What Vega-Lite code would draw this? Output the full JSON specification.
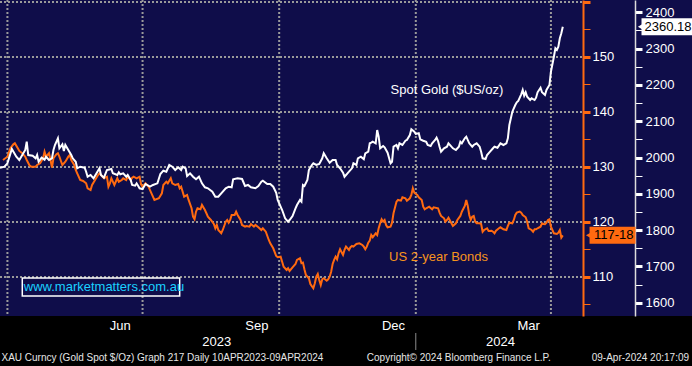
{
"$schema": "https://vega.github.io/schema/vega-lite/v6.json",
"width": 692, "height": 316,
"autosize": {"type": "none"},
"padding": {"left": 0, "top": 0, "right": 0, "bottom": 50},
"background": "#000000",
"config": {"view": {"fill": "#0f0d4a", "stroke": null}, "font": "Liberation Sans", "axis": {"labelFont": "Liberation Sans"}, "text": {"font": "Liberation Sans"}},
"datasets": {
"gold": [
{"date":"2023-03-27","gold":1971.9},{"date":"2023-03-30","gold":1974.7},{"date":"2023-04-01","gold":1984.0},{"date":"2023-04-04","gold":2023.4},{"date":"2023-04-07","gold":2002.2},{"date":"2023-04-09","gold":1993.1},{"date":"2023-04-13","gold":2020.7},{"date":"2023-04-14","gold":2043.5},{"date":"2023-04-15","gold":2006.9},{"date":"2023-04-18","gold":2005.0},{"date":"2023-04-20","gold":1997.8},{"date":"2023-04-21","gold":2006.9},{"date":"2023-04-22","gold":1988.4},{"date":"2023-04-24","gold":1999.5},{"date":"2023-04-26","gold":1994.0},{"date":"2023-04-27","gold":2002.2},{"date":"2023-04-29","gold":1993.1},
{"date":"2023-05-01","gold":1997.8},{"date":"2023-05-02","gold":2020.7},{"date":"2023-05-03","gold":2034.5},{"date":"2023-05-05","gold":2052.9},{"date":"2023-05-06","gold":2025.4},{"date":"2023-05-08","gold":2036.4},{"date":"2023-05-09","gold":2017.9},{"date":"2023-05-10","gold":2034.5},{"date":"2023-05-12","gold":2020.7},{"date":"2023-05-14","gold":2006.9},{"date":"2023-05-15","gold":1997.8},{"date":"2023-05-17","gold":1988.4},{"date":"2023-05-18","gold":1970.3},{"date":"2023-05-20","gold":1974.7},{"date":"2023-05-23","gold":1971.9},{"date":"2023-05-24","gold":1960.9},{"date":"2023-05-25","gold":1947.1},{"date":"2023-05-27","gold":1951.8},{"date":"2023-05-29","gold":1942.7},{"date":"2023-05-31","gold":1956.5},
{"date":"2023-06-02","gold":1970.3},{"date":"2023-06-03","gold":1951.8},{"date":"2023-06-05","gold":1944.4},{"date":"2023-06-07","gold":1965.6},{"date":"2023-06-10","gold":1968.3},{"date":"2023-06-11","gold":1956.5},{"date":"2023-06-14","gold":1951.8},{"date":"2023-06-15","gold":1959.3},{"date":"2023-06-16","gold":1953.7},{"date":"2023-06-18","gold":1956.5},{"date":"2023-06-20","gold":1947.1},{"date":"2023-06-21","gold":1951.8},{"date":"2023-06-23","gold":1938.0},{"date":"2023-06-24","gold":1924.3},{"date":"2023-06-26","gold":1922.3},{"date":"2023-06-27","gold":1928.9},{"date":"2023-06-29","gold":1915.2},
{"date":"2023-07-01","gold":1913.2},{"date":"2023-07-03","gold":1927.0},{"date":"2023-07-06","gold":1919.6},{"date":"2023-07-08","gold":1924.3},{"date":"2023-07-11","gold":1928.9},{"date":"2023-07-13","gold":1954.6},{"date":"2023-07-15","gold":1963.7},{"date":"2023-07-17","gold":1960.9},{"date":"2023-07-19","gold":1979.4},{"date":"2023-07-21","gold":1974.7},{"date":"2023-07-23","gold":1965.6},{"date":"2023-07-25","gold":1973.0},{"date":"2023-07-27","gold":1965.6},{"date":"2023-07-28","gold":1974.7},{"date":"2023-07-30","gold":1970.3},{"date":"2023-07-31","gold":1949.1},
{"date":"2023-08-02","gold":1956.5},{"date":"2023-08-04","gold":1947.1},{"date":"2023-08-06","gold":1940.0},{"date":"2023-08-08","gold":1947.1},{"date":"2023-08-10","gold":1928.9},{"date":"2023-08-12","gold":1917.9},{"date":"2023-08-14","gold":1915.2},{"date":"2023-08-17","gold":1905.8},{"date":"2023-08-19","gold":1892.0},{"date":"2023-08-21","gold":1892.0},{"date":"2023-08-23","gold":1901.4},{"date":"2023-08-26","gold":1915.2},{"date":"2023-08-28","gold":1919.6},{"date":"2023-08-30","gold":1917.9},{"date":"2023-08-31","gold":1940.0},
{"date":"2023-09-03","gold":1942.7},{"date":"2023-09-06","gold":1940.8},{"date":"2023-09-08","gold":1921.5},{"date":"2023-09-10","gold":1924.3},{"date":"2023-09-12","gold":1917.9},{"date":"2023-09-15","gold":1915.2},{"date":"2023-09-17","gold":1921.5},{"date":"2023-09-19","gold":1933.3},{"date":"2023-09-20","gold":1936.1},{"date":"2023-09-23","gold":1927.0},{"date":"2023-09-25","gold":1927.0},{"date":"2023-09-27","gold":1919.6},{"date":"2023-09-29","gold":1903.0},{"date":"2023-09-30","gold":1882.9},
{"date":"2023-10-03","gold":1855.4},{"date":"2023-10-05","gold":1832.5},{"date":"2023-10-07","gold":1823.2},{"date":"2023-10-08","gold":1827.8},{"date":"2023-10-10","gold":1838.9},{"date":"2023-10-12","gold":1860.1},{"date":"2023-10-13","gold":1869.2},{"date":"2023-10-15","gold":1882.9},{"date":"2023-10-16","gold":1878.3},{"date":"2023-10-17","gold":1924.3},{"date":"2023-10-18","gold":1921.5},{"date":"2023-10-20","gold":1938.0},{"date":"2023-10-21","gold":1965.6},{"date":"2023-10-23","gold":1979.4},{"date":"2023-10-24","gold":1984.0},{"date":"2023-10-26","gold":1979.4},{"date":"2023-10-28","gold":1982.1},{"date":"2023-10-30","gold":1997.8},{"date":"2023-10-31","gold":2011.6},
{"date":"2023-11-02","gold":1997.8},{"date":"2023-11-04","gold":1985.7},{"date":"2023-11-06","gold":1993.1},{"date":"2023-11-08","gold":1993.1},{"date":"2023-11-09","gold":1979.4},{"date":"2023-11-11","gold":1970.3},{"date":"2023-11-13","gold":1958.2},{"date":"2023-11-14","gold":1947.1},{"date":"2023-11-16","gold":1956.5},{"date":"2023-11-17","gold":1960.9},{"date":"2023-11-19","gold":1970.3},{"date":"2023-11-20","gold":1984.0},{"date":"2023-11-22","gold":1979.4},{"date":"2023-11-23","gold":1997.8},{"date":"2023-11-25","gold":2002.2},{"date":"2023-11-27","gold":1995.1},{"date":"2023-11-28","gold":2011.6},{"date":"2023-11-30","gold":2016.0},
{"date":"2023-12-01","gold":2039.1},{"date":"2023-12-02","gold":2040.8},{"date":"2023-12-03","gold":2043.5},{"date":"2023-12-05","gold":2039.1},{"date":"2023-12-06","gold":2075.8},{"date":"2023-12-07","gold":2057.3},{"date":"2023-12-08","gold":2025.4},{"date":"2023-12-10","gold":2031.7},{"date":"2023-12-11","gold":2028.1},{"date":"2023-12-13","gold":2013.2},{"date":"2023-12-15","gold":1984.0},{"date":"2023-12-16","gold":1988.4},{"date":"2023-12-17","gold":2029.8},{"date":"2023-12-19","gold":2034.5},{"date":"2023-12-20","gold":2025.4},{"date":"2023-12-21","gold":2039.1},{"date":"2023-12-23","gold":2034.5},{"date":"2023-12-25","gold":2046.3},{"date":"2023-12-26","gold":2048.2},{"date":"2023-12-28","gold":2062.0},{"date":"2023-12-29","gold":2077.7},{"date":"2023-12-31","gold":2071.1},
{"date":"2024-01-01","gold":2064.8},{"date":"2024-01-03","gold":2066.7},{"date":"2024-01-04","gold":2050.2},{"date":"2024-01-06","gold":2046.3},{"date":"2024-01-08","gold":2043.5},{"date":"2024-01-09","gold":2034.5},{"date":"2024-01-11","gold":2031.7},{"date":"2024-01-12","gold":2039.1},{"date":"2024-01-14","gold":2048.2},{"date":"2024-01-15","gold":2054.6},{"date":"2024-01-16","gold":2045.5},{"date":"2024-01-17","gold":2029.8},{"date":"2024-01-18","gold":2016.0},{"date":"2024-01-20","gold":2025.4},{"date":"2024-01-22","gold":2029.8},{"date":"2024-01-23","gold":2039.1},{"date":"2024-01-25","gold":2029.8},{"date":"2024-01-26","gold":2025.4},{"date":"2024-01-28","gold":2020.7},{"date":"2024-01-30","gold":2029.8},{"date":"2024-01-31","gold":2043.5},
{"date":"2024-02-01","gold":2039.1},{"date":"2024-02-03","gold":2052.9},{"date":"2024-02-04","gold":2057.3},{"date":"2024-02-06","gold":2039.1},{"date":"2024-02-08","gold":2029.8},{"date":"2024-02-09","gold":2034.5},{"date":"2024-02-11","gold":2039.1},{"date":"2024-02-13","gold":2029.8},{"date":"2024-02-14","gold":2016.0},{"date":"2024-02-15","gold":1997.8},{"date":"2024-02-17","gold":1995.9},{"date":"2024-02-18","gold":2006.9},{"date":"2024-02-20","gold":2016.0},{"date":"2024-02-22","gold":2025.4},{"date":"2024-02-23","gold":2029.8},{"date":"2024-02-25","gold":2027.0},{"date":"2024-02-27","gold":2039.1},{"date":"2024-02-29","gold":2034.5},
{"date":"2024-03-02","gold":2039.1},{"date":"2024-03-03","gold":2052.9},{"date":"2024-03-04","gold":2089.5},{"date":"2024-03-06","gold":2126.2},{"date":"2024-03-08","gold":2144.6},{"date":"2024-03-09","gold":2152.1},{"date":"2024-03-10","gold":2155.7},{"date":"2024-03-12","gold":2174.1},{"date":"2024-03-13","gold":2186.0},{"date":"2024-03-14","gold":2170.3},{"date":"2024-03-15","gold":2179.6},{"date":"2024-03-16","gold":2167.5},{"date":"2024-03-18","gold":2158.4},{"date":"2024-03-19","gold":2163.1},{"date":"2024-03-21","gold":2158.4},{"date":"2024-03-22","gold":2164.8},{"date":"2024-03-23","gold":2179.6},{"date":"2024-03-25","gold":2192.3},{"date":"2024-03-26","gold":2179.6},{"date":"2024-03-28","gold":2172.2},{"date":"2024-03-29","gold":2186.0},{"date":"2024-03-31","gold":2199.7},
{"date":"2024-04-01","gold":2236.4},{"date":"2024-04-03","gold":2277.7},{"date":"2024-04-04","gold":2300.8},{"date":"2024-04-05","gold":2296.2},{"date":"2024-04-06","gold":2305.3},{"date":"2024-04-07","gold":2328.4},{"date":"2024-04-08","gold":2342.2},{"date":"2024-04-09","gold":2360.18}
],
"bond": [
{"date":"2023-03-29","bond":131.27},{"date":"2023-04-01","bond":131.87},{"date":"2023-04-03","bond":133.40},{"date":"2023-04-05","bond":134.12},{"date":"2023-04-06","bond":134.31},{"date":"2023-04-08","bond":133.40},{"date":"2023-04-09","bond":132.91},{"date":"2023-04-11","bond":132.49},{"date":"2023-04-13","bond":131.87},{"date":"2023-04-14","bond":131.27},{"date":"2023-04-16","bond":130.23},{"date":"2023-04-17","bond":130.05},{"date":"2023-04-20","bond":130.05},{"date":"2023-04-21","bond":130.36},{"date":"2023-04-23","bond":130.67},{"date":"2023-04-25","bond":131.58},{"date":"2023-04-26","bond":132.78},{"date":"2023-04-27","bond":131.87},{"date":"2023-04-29","bond":132.49},{"date":"2023-04-30","bond":131.27},
{"date":"2023-05-01","bond":129.87},{"date":"2023-05-02","bond":131.58},{"date":"2023-05-04","bond":132.31},{"date":"2023-05-05","bond":132.49},{"date":"2023-05-06","bond":131.87},{"date":"2023-05-08","bond":130.36},{"date":"2023-05-10","bond":130.96},{"date":"2023-05-12","bond":131.87},{"date":"2023-05-13","bond":132.18},{"date":"2023-05-14","bond":131.27},{"date":"2023-05-16","bond":130.36},{"date":"2023-05-17","bond":129.45},{"date":"2023-05-18","bond":128.85},{"date":"2023-05-20","bond":127.63},{"date":"2023-05-22","bond":127.45},{"date":"2023-05-24","bond":127.03},{"date":"2023-05-25","bond":126.12},{"date":"2023-05-27","bond":125.81},{"date":"2023-05-28","bond":126.72},{"date":"2023-05-30","bond":127.63},
{"date":"2023-06-01","bond":128.54},{"date":"2023-06-02","bond":128.85},{"date":"2023-06-03","bond":128.54},{"date":"2023-06-05","bond":127.94},{"date":"2023-06-07","bond":128.23},{"date":"2023-06-08","bond":126.41},{"date":"2023-06-09","bond":127.03},{"date":"2023-06-10","bond":127.94},{"date":"2023-06-11","bond":127.32},{"date":"2023-06-12","bond":126.72},{"date":"2023-06-14","bond":127.94},{"date":"2023-06-15","bond":127.32},{"date":"2023-06-17","bond":127.63},{"date":"2023-06-18","bond":127.94},{"date":"2023-06-20","bond":127.63},{"date":"2023-06-21","bond":128.23},{"date":"2023-06-23","bond":127.63},{"date":"2023-06-24","bond":128.05},{"date":"2023-06-25","bond":128.23},{"date":"2023-06-27","bond":127.94},{"date":"2023-06-29","bond":128.23},{"date":"2023-06-30","bond":126.85},
{"date":"2023-07-01","bond":126.41},{"date":"2023-07-03","bond":127.03},{"date":"2023-07-05","bond":126.41},{"date":"2023-07-07","bond":125.21},{"date":"2023-07-09","bond":124.00},{"date":"2023-07-12","bond":124.31},{"date":"2023-07-14","bond":125.21},{"date":"2023-07-15","bond":126.72},{"date":"2023-07-17","bond":127.32},{"date":"2023-07-18","bond":127.03},{"date":"2023-07-20","bond":127.94},{"date":"2023-07-21","bond":127.03},{"date":"2023-07-23","bond":126.72},{"date":"2023-07-25","bond":126.91},{"date":"2023-07-26","bond":126.12},{"date":"2023-07-27","bond":126.41},{"date":"2023-07-29","bond":124.60},{"date":"2023-07-31","bond":124.91},
{"date":"2023-08-01","bond":124.00},{"date":"2023-08-03","bond":122.49},{"date":"2023-08-04","bond":120.96},{"date":"2023-08-05","bond":120.49},{"date":"2023-08-06","bond":121.87},{"date":"2023-08-07","bond":122.49},{"date":"2023-08-09","bond":122.31},{"date":"2023-08-10","bond":123.09},{"date":"2023-08-12","bond":122.18},{"date":"2023-08-13","bond":121.58},{"date":"2023-08-14","bond":120.96},{"date":"2023-08-16","bond":120.36},{"date":"2023-08-18","bond":119.63},{"date":"2023-08-19","bond":118.85},{"date":"2023-08-20","bond":119.45},{"date":"2023-08-21","bond":118.54},{"date":"2023-08-23","bond":117.94},{"date":"2023-08-24","bond":118.54},{"date":"2023-08-26","bond":120.05},{"date":"2023-08-27","bond":120.36},{"date":"2023-08-28","bond":119.87},{"date":"2023-08-29","bond":120.36},{"date":"2023-08-30","bond":121.27},
{"date":"2023-09-01","bond":121.27},{"date":"2023-09-02","bond":121.87},{"date":"2023-09-03","bond":121.27},{"date":"2023-09-05","bond":120.36},{"date":"2023-09-06","bond":119.45},{"date":"2023-09-08","bond":119.14},{"date":"2023-09-09","bond":119.27},{"date":"2023-09-11","bond":119.14},{"date":"2023-09-12","bond":119.63},{"date":"2023-09-14","bond":119.14},{"date":"2023-09-15","bond":119.45},{"date":"2023-09-17","bond":119.03},{"date":"2023-09-19","bond":118.54},{"date":"2023-09-20","bond":118.85},{"date":"2023-09-22","bond":118.23},{"date":"2023-09-24","bond":116.72},{"date":"2023-09-25","bond":116.12},{"date":"2023-09-27","bond":115.21},{"date":"2023-09-29","bond":113.81},{"date":"2023-09-30","bond":113.58},
{"date":"2023-10-02","bond":113.69},{"date":"2023-10-03","bond":112.78},{"date":"2023-10-04","bond":111.87},{"date":"2023-10-06","bond":111.27},{"date":"2023-10-07","bond":111.58},{"date":"2023-10-08","bond":111.09},{"date":"2023-10-10","bond":111.76},{"date":"2023-10-12","bond":112.36},{"date":"2023-10-13","bond":113.09},{"date":"2023-10-15","bond":113.40},{"date":"2023-10-16","bond":112.49},{"date":"2023-10-17","bond":112.60},{"date":"2023-10-18","bond":111.40},{"date":"2023-10-19","bond":110.36},{"date":"2023-10-21","bond":109.76},{"date":"2023-10-22","bond":108.72},{"date":"2023-10-24","bond":107.94},{"date":"2023-10-25","bond":108.85},{"date":"2023-10-26","bond":110.05},{"date":"2023-10-27","bond":110.54},{"date":"2023-10-28","bond":109.45},{"date":"2023-10-29","bond":108.54},{"date":"2023-10-30","bond":109.58},{"date":"2023-10-31","bond":109.76},
{"date":"2023-11-02","bond":109.32},{"date":"2023-11-03","bond":109.58},{"date":"2023-11-04","bond":110.05},{"date":"2023-11-05","bond":110.96},{"date":"2023-11-06","bond":112.36},{"date":"2023-11-07","bond":113.09},{"date":"2023-11-08","bond":113.69},{"date":"2023-11-09","bond":113.21},{"date":"2023-11-10","bond":114.31},{"date":"2023-11-11","bond":115.03},{"date":"2023-11-13","bond":114.00},{"date":"2023-11-14","bond":114.91},{"date":"2023-11-15","bond":115.51},{"date":"2023-11-17","bond":114.91},{"date":"2023-11-18","bond":115.40},{"date":"2023-11-19","bond":115.63},{"date":"2023-11-20","bond":115.51},{"date":"2023-11-22","bond":116.00},{"date":"2023-11-24","bond":116.12},{"date":"2023-11-26","bond":115.81},{"date":"2023-11-27","bond":115.51},{"date":"2023-11-28","bond":115.03},{"date":"2023-11-29","bond":115.51},{"date":"2023-11-30","bond":116.23},
{"date":"2023-12-01","bond":116.60},{"date":"2023-12-02","bond":117.63},{"date":"2023-12-03","bond":117.21},{"date":"2023-12-05","bond":117.94},{"date":"2023-12-06","bond":117.63},{"date":"2023-12-07","bond":118.85},{"date":"2023-12-08","bond":119.76},{"date":"2023-12-09","bond":120.49},{"date":"2023-12-10","bond":120.05},{"date":"2023-12-11","bond":120.36},{"date":"2023-12-12","bond":119.45},{"date":"2023-12-13","bond":119.03},{"date":"2023-12-15","bond":119.14},{"date":"2023-12-16","bond":119.87},{"date":"2023-12-17","bond":121.58},{"date":"2023-12-19","bond":123.69},{"date":"2023-12-20","bond":124.00},{"date":"2023-12-22","bond":123.87},{"date":"2023-12-23","bond":124.49},{"date":"2023-12-25","bond":124.31},{"date":"2023-12-26","bond":123.87},{"date":"2023-12-28","bond":124.31},{"date":"2023-12-29","bond":124.91},{"date":"2023-12-30","bond":126.12},{"date":"2023-12-31","bond":125.32},
{"date":"2024-01-02","bond":124.91},{"date":"2024-01-03","bond":124.49},{"date":"2024-01-05","bond":124.00},{"date":"2024-01-06","bond":122.78},{"date":"2024-01-07","bond":122.31},{"date":"2024-01-08","bond":122.49},{"date":"2024-01-10","bond":122.78},{"date":"2024-01-12","bond":122.31},{"date":"2024-01-13","bond":122.67},{"date":"2024-01-16","bond":122.49},{"date":"2024-01-17","bond":121.69},{"date":"2024-01-18","bond":121.09},{"date":"2024-01-20","bond":120.67},{"date":"2024-01-21","bond":120.05},{"date":"2024-01-22","bond":120.36},{"date":"2024-01-23","bond":120.78},{"date":"2024-01-25","bond":119.76},{"date":"2024-01-26","bond":119.27},{"date":"2024-01-28","bond":119.76},{"date":"2024-01-29","bond":120.36},{"date":"2024-01-31","bond":121.09},
{"date":"2024-02-01","bond":121.87},{"date":"2024-02-03","bond":122.91},{"date":"2024-02-04","bond":124.00},{"date":"2024-02-05","bond":122.91},{"date":"2024-02-06","bond":121.27},{"date":"2024-02-07","bond":120.36},{"date":"2024-02-08","bond":120.96},{"date":"2024-02-09","bond":121.09},{"date":"2024-02-10","bond":120.05},{"date":"2024-02-11","bond":119.76},{"date":"2024-02-13","bond":119.76},{"date":"2024-02-14","bond":119.63},{"date":"2024-02-15","bond":118.23},{"date":"2024-02-16","bond":118.54},{"date":"2024-02-18","bond":118.85},{"date":"2024-02-19","bond":118.36},{"date":"2024-02-21","bond":118.41},{"date":"2024-02-22","bond":118.23},{"date":"2024-02-23","bond":117.94},{"date":"2024-02-24","bond":118.41},{"date":"2024-02-26","bond":118.85},{"date":"2024-02-27","bond":119.03},{"date":"2024-02-29","bond":118.67},
{"date":"2024-03-02","bond":118.54},{"date":"2024-03-03","bond":119.27},{"date":"2024-03-04","bond":119.87},{"date":"2024-03-06","bond":119.76},{"date":"2024-03-07","bond":120.36},{"date":"2024-03-08","bond":121.27},{"date":"2024-03-09","bond":121.69},{"date":"2024-03-11","bond":121.87},{"date":"2024-03-12","bond":121.69},{"date":"2024-03-13","bond":121.27},{"date":"2024-03-15","bond":120.85},{"date":"2024-03-16","bond":120.05},{"date":"2024-03-17","bond":118.85},{"date":"2024-03-19","bond":118.54},{"date":"2024-03-20","bond":118.23},{"date":"2024-03-21","bond":118.67},{"date":"2024-03-22","bond":118.67},{"date":"2024-03-23","bond":118.85},{"date":"2024-03-25","bond":119.14},{"date":"2024-03-26","bond":119.76},{"date":"2024-03-27","bond":119.63},{"date":"2024-03-28","bond":119.58},{"date":"2024-03-29","bond":119.87},{"date":"2024-03-30","bond":120.36},{"date":"2024-03-31","bond":120.49},
{"date":"2024-04-01","bond":119.14},{"date":"2024-04-02","bond":118.54},{"date":"2024-04-03","bond":117.94},{"date":"2024-04-05","bond":117.81},{"date":"2024-04-06","bond":118.05},{"date":"2024-04-07","bond":118.54},{"date":"2024-04-08","bond":117.14},{"date":"2024-04-09","bond":117.5625}
],
"hgrid": [{"v":110},{"v":120},{"v":130},{"v":140},{"v":150},{"v":160}],
"vgrid": [{"d":"2023-04-01"},{"d":"2023-07-01"},{"d":"2023-10-01"},{"d":"2024-01-01"},{"d":"2024-04-01"}],
"months": [{"d":"2023-06-16","label":"Jun"},{"d":"2023-09-16","label":"Sep"},{"d":"2023-12-17","label":"Dec"},{"d":"2024-03-17","label":"Mar"}],
"years": [{"d":"2023-08-20","label":"2023"},{"d":"2024-02-27","label":"2024"}]
},
"layer": [
{"data": {"name": "hgrid"}, "mark": {"type": "rule", "color": "#9a9a9a", "strokeWidth": 2, "strokeDash": [2, 2]},
 "encoding": {
  "x": {"datum": {"year":2023,"month":3,"date":27}, "type": "temporal", "scale": {"domain": [{"year":2023,"month":3,"date":27},{"year":2024,"month":7,"date":5}], "nice": false}, "axis": null},
  "x2": {"datum": {"year":2024,"month":4,"date":23}},
  "y": {"field": "v", "type": "quantitative", "scale": {"domain": [102.9, 160.36], "nice": false, "zero": false}, "axis": null}}},
{"data": {"name": "vgrid"}, "mark": {"type": "rule", "color": "#9a9a9a", "strokeWidth": 2, "strokeDash": [2, 2]},
 "encoding": {
  "x": {"field": "d", "type": "temporal", "scale": {"domain": [{"year":2023,"month":3,"date":27},{"year":2024,"month":7,"date":5}], "nice": false}, "axis": null}}},
{"data": {"name": "bond"}, "mark": {"type": "line", "color": "#ff6a10", "strokeWidth": 2},
 "encoding": {
  "x": {"field": "date", "type": "temporal", "scale": {"domain": [{"year":2023,"month":3,"date":27},{"year":2024,"month":7,"date":5}], "nice": false},
   "axis": {"orient": "bottom", "title": null, "domain": false, "grid": false, "labels": false,
    "values": [{"year":2023,"month":4,"date":1},{"year":2023,"month":5,"date":1},{"year":2023,"month":6,"date":1},{"year":2023,"month":7,"date":1},{"year":2023,"month":8,"date":1},{"year":2023,"month":9,"date":1},{"year":2023,"month":10,"date":1},{"year":2023,"month":11,"date":1},{"year":2023,"month":12,"date":1},{"year":2024,"month":1,"date":1},{"year":2024,"month":2,"date":1},{"year":2024,"month":3,"date":1},{"year":2024,"month":4,"date":1}],
    "tickColor": "#ffffff", "tickWidth": 1, "tickSize": 4}},
  "y": {"field": "bond", "type": "quantitative", "scale": {"domain": [102.9, 160.36], "nice": false, "zero": false},
   "axis": {"orient": "right", "offset": -109, "title": null, "grid": false,
    "values": [105,110,115,120,125,130,135,140,145,150,155,160],
    "format": "d",
    "labelExpr": "datum.value % 10 == 0 && datum.value <= 150 ? datum.label : ''",
    "domainColor": "#ff6a10", "domainWidth": 2,
    "tickColor": "#ff6a10", "tickSize": 7,
    "tickWidth": {"condition": {"test": "datum.value % 10 == 0", "value": 3}, "value": 1},
    "labelColor": "#ffffff", "labelFontSize": 13, "labelPadding": 2}}}},
{"data": {"name": "months"}, "mark": {"type": "text", "align": "center", "baseline": "middle", "fontSize": 13, "color": "#ffffff"},
 "encoding": {
  "x": {"field": "d", "type": "temporal", "scale": {"domain": [{"year":2023,"month":3,"date":27},{"year":2024,"month":7,"date":5}], "nice": false}, "axis": null},
  "y": {"datum": 101.09, "type": "quantitative", "scale": {"domain": [102.9, 160.36], "nice": false, "zero": false}, "axis": null},
  "text": {"field": "label"}}},
{"data": {"name": "years"}, "mark": {"type": "text", "align": "center", "baseline": "middle", "fontSize": 13, "color": "#ffffff"},
 "encoding": {
  "x": {"field": "d", "type": "temporal", "scale": {"domain": [{"year":2023,"month":3,"date":27},{"year":2024,"month":7,"date":5}], "nice": false}, "axis": null},
  "y": {"datum": 98.18, "type": "quantitative", "scale": {"domain": [102.9, 160.36], "nice": false, "zero": false}, "axis": null},
  "text": {"field": "label"}}},
{"data": {"values": [{"d": "2024-01-01"}]}, "mark": {"type": "rule", "color": "#8c8c8c", "strokeWidth": 1},
 "encoding": {
  "x": {"field": "d", "type": "temporal", "scale": {"domain": [{"year":2023,"month":3,"date":27},{"year":2024,"month":7,"date":5}], "nice": false}, "axis": null},
  "y": {"datum": 99.81, "type": "quantitative", "scale": {"domain": [102.9, 160.36], "nice": false, "zero": false}, "axis": null},
  "y2": {"datum": 96.72}}},
{"data": {"values": [{"v": 117.5625}]}, "mark": {"type": "rect", "color": "#ff6a10", "yOffset": -8.5, "y2Offset": 8.5},
 "encoding": {
  "x": {"datum": {"year":2024,"month":4,"date":27}, "type": "temporal", "scale": {"domain": [{"year":2023,"month":3,"date":27},{"year":2024,"month":7,"date":5}], "nice": false}, "axis": null},
  "x2": {"datum": {"year":2024,"month":5,"date":28}},
  "y": {"field": "v", "type": "quantitative", "scale": {"domain": [102.9, 160.36], "nice": false, "zero": false}, "axis": null},
  "y2": {"field": "v"}}},
{"data": {"values": [{"v": 117.5625}]}, "mark": {"type": "point", "shape": "triangle-left", "filled": true, "color": "#ff6a10", "opacity": 1, "size": 70},
 "encoding": {
  "x": {"datum": {"year":2024,"month":4,"date":27}, "type": "temporal", "scale": {"domain": [{"year":2023,"month":3,"date":27},{"year":2024,"month":7,"date":5}], "nice": false}, "axis": null},
  "y": {"field": "v", "type": "quantitative", "scale": {"domain": [102.9, 160.36], "nice": false, "zero": false}, "axis": null}}},
{"data": {"values": [{"v": 117.5625, "label": "117-18"}]}, "mark": {"type": "text", "align": "left", "baseline": "middle", "fontSize": 13, "color": "#000000"},
 "encoding": {
  "x": {"datum": {"year":2024,"month":4,"date":30}, "type": "temporal", "scale": {"domain": [{"year":2023,"month":3,"date":27},{"year":2024,"month":7,"date":5}], "nice": false}, "axis": null},
  "y": {"field": "v", "type": "quantitative", "scale": {"domain": [102.9, 160.36], "nice": false, "zero": false}, "axis": null},
  "text": {"field": "label"}}},
{"data": {"values": [{"v": 113.63, "label": "US 2-year Bonds"}]}, "mark": {"type": "text", "align": "left", "baseline": "middle", "fontSize": 13, "color": "#f7941d"},
 "encoding": {
  "x": {"datum": {"year":2023,"month":12,"date":14}, "type": "temporal", "scale": {"domain": [{"year":2023,"month":3,"date":27},{"year":2024,"month":7,"date":5}], "nice": false}, "axis": null},
  "y": {"field": "v", "type": "quantitative", "scale": {"domain": [102.9, 160.36], "nice": false, "zero": false}, "axis": null},
  "text": {"field": "label"}}},
{"data": {"values": [{"top": 109.81, "bottom": 106.54}]}, "mark": {"type": "rect", "fillOpacity": 0, "stroke": "#ffffff", "strokeWidth": 1.5},
 "encoding": {
  "x": {"datum": {"year":2023,"month":4,"date":11}, "type": "temporal", "scale": {"domain": [{"year":2023,"month":3,"date":27},{"year":2024,"month":7,"date":5}], "nice": false}, "axis": null},
  "x2": {"datum": {"year":2023,"month":7,"date":26}},
  "y": {"field": "top", "type": "quantitative", "scale": {"domain": [102.9, 160.36], "nice": false, "zero": false}, "axis": null},
  "y2": {"field": "bottom"}}},
{"data": {"values": [{"v": 108.18, "label": "www.marketmatters.com.au"}]}, "mark": {"type": "text", "align": "left", "baseline": "middle", "fontSize": 13, "color": "#1ad1ff"},
 "encoding": {
  "x": {"datum": {"year":2023,"month":4,"date":12}, "type": "temporal", "scale": {"domain": [{"year":2023,"month":3,"date":27},{"year":2024,"month":7,"date":5}], "nice": false}, "axis": null},
  "y": {"field": "v", "type": "quantitative", "scale": {"domain": [102.9, 160.36], "nice": false, "zero": false}, "axis": null},
  "text": {"field": "label"}}},
{"data": {"values": [
   {"d": "2023-03-28", "v": 95.27, "label": "XAU Curncy (Gold Spot   $/Oz) Graph 217  Daily 10APR2023-09APR2024"},
   {"d": "2023-11-29", "v": 95.27, "label": "Copyright© 2024 Bloomberg Finance L.P."}]},
 "mark": {"type": "text", "align": "left", "baseline": "middle", "fontSize": 10, "color": "#e6e6e6"},
 "encoding": {
  "x": {"field": "d", "type": "temporal", "scale": {"domain": [{"year":2023,"month":3,"date":27},{"year":2024,"month":7,"date":5}], "nice": false}, "axis": null},
  "y": {"field": "v", "type": "quantitative", "scale": {"domain": [102.9, 160.36], "nice": false, "zero": false}, "axis": null},
  "text": {"field": "label"}}},
{"data": {"values": [
   {"d": "2024-07-03", "v": 95.27, "label": "09-Apr-2024 20:17:09"}]},
 "mark": {"type": "text", "align": "right", "baseline": "middle", "fontSize": 10, "color": "#e6e6e6"},
 "encoding": {
  "x": {"field": "d", "type": "temporal", "scale": {"domain": [{"year":2023,"month":3,"date":27},{"year":2024,"month":7,"date":5}], "nice": false}, "axis": null},
  "y": {"field": "v", "type": "quantitative", "scale": {"domain": [102.9, 160.36], "nice": false, "zero": false}, "axis": null},
  "text": {"field": "label"}}},
{"data": {"name": "gold"}, "mark": {"type": "line", "color": "#ffffff", "strokeWidth": 2},
 "encoding": {
  "x": {"field": "date", "type": "temporal", "scale": {"domain": [{"year":2023,"month":3,"date":27},{"year":2024,"month":7,"date":5}], "nice": false}, "axis": null},
  "y": {"field": "gold", "type": "quantitative", "scale": {"domain": [1563.4, 2433.9], "nice": false, "zero": false},
   "axis": {"orient": "right", "offset": -57, "title": null, "grid": false,
    "values": [1600,1650,1700,1750,1800,1850,1900,1950,2000,2050,2100,2150,2200,2250,2300,2350,2400],
    "format": "d",
    "labelExpr": "datum.value % 100 == 0 ? datum.label : ''",
    "domainColor": "#dcdcdc", "domainWidth": 1.5,
    "tickColor": "#ffffff", "tickSize": 7,
    "tickWidth": {"condition": {"test": "datum.value % 100 == 0", "value": 3}, "value": 1},
    "labelColor": "#ffffff", "labelFontSize": 13, "labelPadding": 3}}}},
{"data": {"values": [{"v": 2360.18}]}, "mark": {"type": "rect", "color": "#ffffff", "yOffset": -8.5, "y2Offset": 8.5},
 "encoding": {
  "x": {"datum": {"year":2024,"month":6,"date":1}, "type": "temporal", "scale": {"domain": [{"year":2023,"month":3,"date":27},{"year":2024,"month":7,"date":5}], "nice": false}, "axis": null},
  "x2": {"datum": {"year":2024,"month":7,"date":5}},
  "y": {"field": "v", "type": "quantitative", "scale": {"domain": [1563.4, 2433.9], "nice": false, "zero": false}, "axis": null},
  "y2": {"field": "v"}}},
{"data": {"values": [{"v": 2360.18}]}, "mark": {"type": "point", "shape": "triangle-left", "filled": true, "color": "#ffffff", "opacity": 1, "size": 70},
 "encoding": {
  "x": {"datum": {"year":2024,"month":6,"date":1}, "type": "temporal", "scale": {"domain": [{"year":2023,"month":3,"date":27},{"year":2024,"month":7,"date":5}], "nice": false}, "axis": null},
  "y": {"field": "v", "type": "quantitative", "scale": {"domain": [1563.4, 2433.9], "nice": false, "zero": false}, "axis": null}}},
{"data": {"values": [{"v": 2360.18, "label": "2360.18"}]}, "mark": {"type": "text", "align": "left", "baseline": "middle", "fontSize": 13, "color": "#000000"},
 "encoding": {
  "x": {"datum": {"year":2024,"month":6,"date":3}, "type": "temporal", "scale": {"domain": [{"year":2023,"month":3,"date":27},{"year":2024,"month":7,"date":5}], "nice": false}, "axis": null},
  "y": {"field": "v", "type": "quantitative", "scale": {"domain": [1563.4, 2433.9], "nice": false, "zero": false}, "axis": null},
  "text": {"field": "label"}}},
{"data": {"values": [{"v": 2186, "label": "Spot Gold ($US/oz)"}]}, "mark": {"type": "text", "align": "left", "baseline": "middle", "fontSize": 13, "color": "#ffffff"},
 "encoding": {
  "x": {"datum": {"year":2023,"month":12,"date":15}, "type": "temporal", "scale": {"domain": [{"year":2023,"month":3,"date":27},{"year":2024,"month":7,"date":5}], "nice": false}, "axis": null},
  "y": {"field": "v", "type": "quantitative", "scale": {"domain": [1563.4, 2433.9], "nice": false, "zero": false}, "axis": null},
  "text": {"field": "label"}}}
],
"resolve": {"scale": {"y": "independent"}, "axis": {"y": "independent"}}
}
